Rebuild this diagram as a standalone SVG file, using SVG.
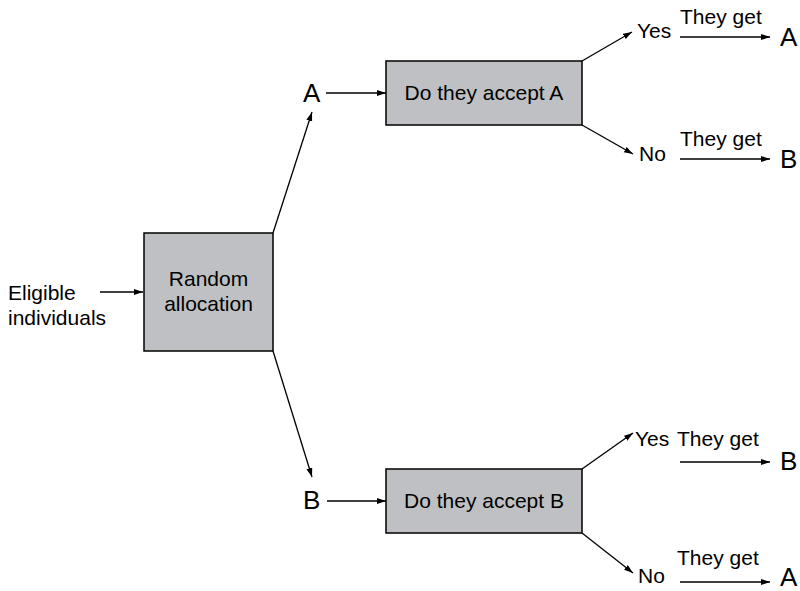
<svg xmlns="http://www.w3.org/2000/svg" width="800" height="591" viewBox="0 0 800 591">
<defs>
<marker id="ah" markerUnits="userSpaceOnUse" markerWidth="10" markerHeight="8" refX="9" refY="3" orient="auto">
<path d="M0,0 L9,3 L0,6 Z" fill="#000"/>
</marker>
<style>
.box{fill:#bfc0c3;stroke:#000;stroke-width:1.5}
.t{font-family:"Liberation Sans",Arial,sans-serif;font-size:21px;fill:#000}
.big{font-family:"Liberation Sans",Arial,sans-serif;font-size:26px;fill:#000}
.c{text-anchor:middle}
.ln{stroke:#000;stroke-width:1.3;fill:none;marker-end:url(#ah)}
</style>
</defs>
<rect width="800" height="591" fill="#fff"/>
<g id="eligible"><text class="t" x="8" y="300">Eligible</text><text class="t" x="8" y="325">individuals</text></g>
<g id="random"><rect class="box" x="144" y="233" width="129" height="118"/><text class="t c" x="208.5" y="286">Random</text><text class="t c" x="208.5" y="311">allocation</text></g>
<g id="labelA"><text class="big" x="303" y="102">A</text></g>
<g id="labelB"><text class="big" x="303" y="509">B</text></g>
<g id="acceptA"><rect class="box" x="386" y="61" width="196" height="64"/><text class="t c" x="484" y="100">Do they accept A</text></g>
<g id="acceptB"><rect class="box" x="386" y="469" width="196" height="64"/><text class="t c" x="484" y="508">Do they accept B</text></g>
<g id="outA">
<text class="t" x="637" y="38">Yes</text><text class="t" x="680" y="24">They get</text><text class="big" x="780" y="46">A</text>
<text class="t" x="639" y="161">No</text><text class="t" x="680" y="146">They get</text><text class="big" x="780" y="168">B</text>
</g>
<g id="outB">
<text class="t" x="635" y="446">Yes</text><text class="t" x="677" y="446">They get</text><text class="big" x="780" y="470">B</text>
<text class="t" x="638" y="583">No</text><text class="t" x="677" y="565">They get</text><text class="big" x="780" y="586">A</text>
</g>
<g id="connectors">
<line class="ln" x1="100" y1="292" x2="143" y2="292"/>
<line class="ln" x1="273" y1="233" x2="312" y2="112"/>
<line class="ln" x1="273" y1="351" x2="312" y2="477"/>
<line class="ln" x1="326" y1="93" x2="386" y2="93"/>
<line class="ln" x1="327" y1="501" x2="386" y2="501"/>
<line class="ln" x1="582" y1="61" x2="632" y2="32"/>
<line class="ln" x1="582" y1="125" x2="633" y2="154"/>
<line class="ln" x1="582" y1="469" x2="633" y2="433"/>
<line class="ln" x1="582" y1="533" x2="633" y2="573"/>
<line class="ln" x1="680" y1="37" x2="770" y2="37"/>
<line class="ln" x1="680" y1="159" x2="770" y2="159"/>
<line class="ln" x1="680" y1="462" x2="770" y2="462"/>
<line class="ln" x1="680" y1="582" x2="770" y2="582"/>
</g>
</svg>
